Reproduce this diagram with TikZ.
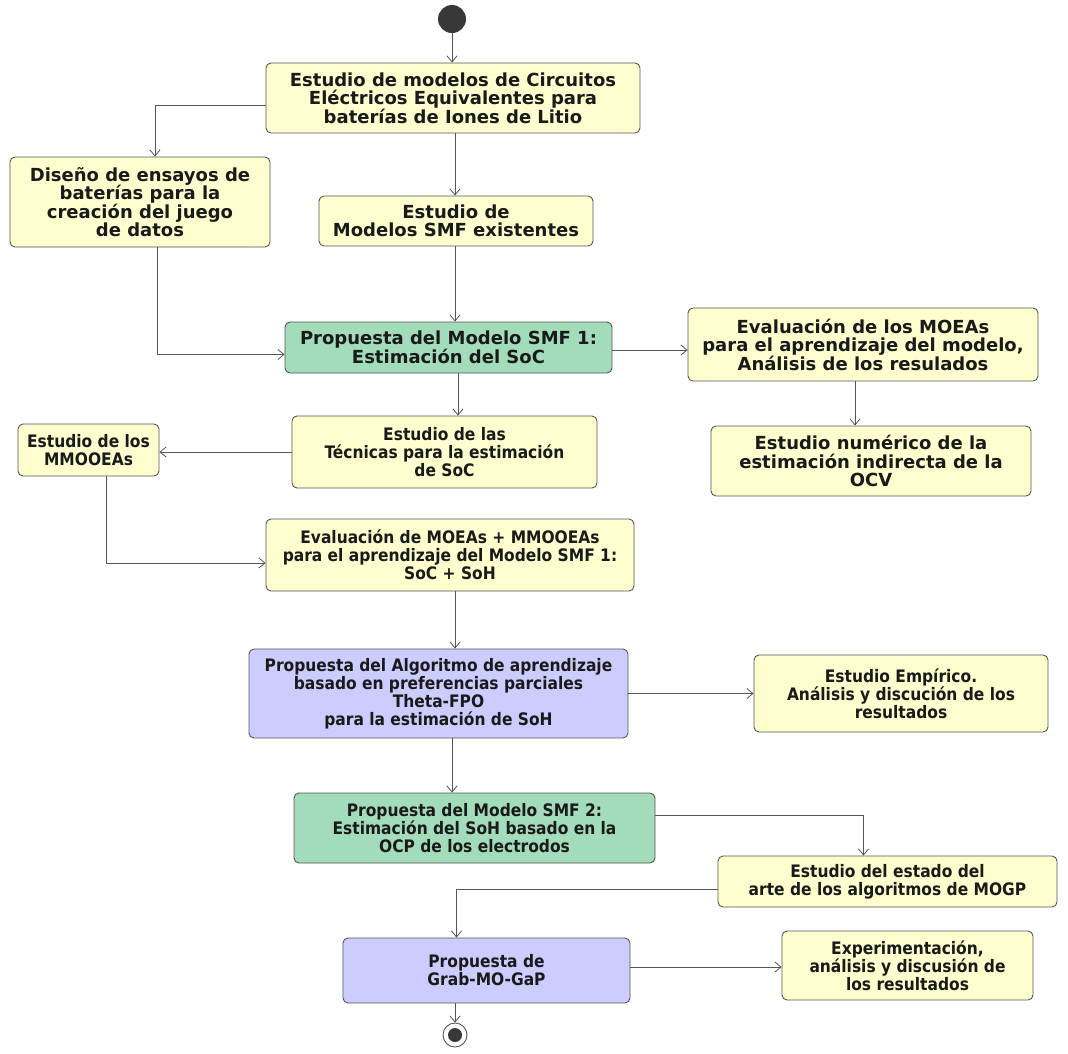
\documentclass[tikz,border=0pt]{standalone}
\usepackage{fontspec}
\setmainfont{DejaVu Sans}
\newfontfamily\condfont{DejaVu Sans Condensed}
\usetikzlibrary{arrows.meta}
\definecolor{byellow}{HTML}{FEFECE}
\definecolor{bgreen}{HTML}{A2DCBA}
\definecolor{bpurple}{HTML}{CCCCFF}
\definecolor{bline}{HTML}{555555}
\definecolor{btext}{HTML}{1A1A1A}
\tikzset{
  box/.style={draw=bline, line width=0.9pt, rounded corners=5pt, align=center,
    text=btext, inner sep=1pt, font=\bfseries\fontsize{18}{18.5}\selectfont},
  ybox/.style={box, fill=byellow},
  gbox/.style={box, fill=bgreen},
  pbox/.style={box, fill=bpurple},
  cond/.style={font=\condfont\bfseries\fontsize{17.2}{18}\selectfont},
  flow/.style={draw=bline, line width=0.8pt, -{Straight Barb[length=6pt,width=10pt]}}
}
\begin{document}
\begin{tikzpicture}[x=1pt,y=-1pt]
\useasboundingbox[fill=white] (0,0) rectangle (1068,1053);
\node[circle, fill=black!78, minimum size=28pt, inner sep=0pt] (start) at (452,19) {};
\node[ybox, minimum width=374pt, minimum height=70pt] (b1) at (453,98)
  {Estudio de modelos de Circuitos\\Eléctricos Equivalentes para\\baterías de Iones de Litio};
\node[ybox, minimum width=260pt, minimum height=90pt] (b2) at (140,202)
  {Diseño de ensayos de\\baterías para la\\creación del juego\\de datos};
\node[ybox, minimum width=274pt, minimum height=50pt] (b3) at (456,221)
  {Estudio de\\Modelos SMF existentes};
\node[gbox, minimum width=327pt, minimum height=51pt] (b4) at (448.5,347.5)
  {Propuesta del Modelo SMF 1:\\Estimación del SoC};
\node[ybox, minimum width=350pt, minimum height=73pt] (b5) at (863,344.5)
  {Evaluación de los MOEAs\\para el aprendizaje del modelo,\\Análisis de los resulados};
\node[ybox, cond, minimum width=305pt, minimum height=72pt] (b6) at (444.5,452)
  {Estudio de las\\Técnicas para la estimación\\de SoC};
\node[ybox, cond, minimum width=141pt, minimum height=52pt] (b7) at (88.5,450)
  {Estudio de los\\MMOOEAs};
\node[ybox, minimum width=320pt, minimum height=70pt] (b8) at (871,461)
  {Estudio numérico de la\\estimación indirecta de la\\OCV};
\node[ybox, cond, minimum width=368pt, minimum height=72pt] (b9) at (450,555)
  {Evaluación de MOEAs + MMOOEAs\\para el aprendizaje del Modelo SMF 1:\\SoC + SoH};
\node[pbox, cond, minimum width=379pt, minimum height=89pt] (b10) at (438.5,693.5)
  {Propuesta del Algoritmo de aprendizaje\\basado en preferencias parciales\\Theta-FPO\\para la estimación de SoH};
\node[ybox, cond, minimum width=294pt, minimum height=77pt] (b11) at (901,693.5)
  {Estudio Empírico.\\Análisis y discución de los\\resultados};
\node[gbox, cond, minimum width=361pt, minimum height=70pt] (b12) at (474.5,828)
  {Propuesta del Modelo SMF 2:\\Estimación del SoH basado en la\\OCP de los electrodos};
\node[ybox, cond, minimum width=339pt, minimum height=51pt] (b13) at (887.5,881.5)
  {Estudio del estado del\\arte de los algoritmos de MOGP};
\node[pbox, cond, minimum width=287pt, minimum height=65pt] (b14) at (486.5,970.5)
  {Propuesta de\\Grab-MO-GaP};
\node[ybox, cond, minimum width=251pt, minimum height=69pt] (b15) at (907.5,965.5)
  {Experimentación,\\análisis y discusión de\\los resultados};
\node[circle, draw=bline, line width=0.9pt, fill=white, minimum size=24pt, inner sep=0pt] (end) at (455,1035) {};
\node[circle, fill=black!78, minimum size=14pt, inner sep=0pt] (endin) at (end.center) {};

\draw[flow] (start) -- (start |- b1.north);
\draw[flow] ([yshift=-7pt]b1.west) -| ([xshift=15pt]b2.north);
\draw[flow] (b1.south -| 455,0) -- (b3.north -| 455,0);
\draw[flow] ([xshift=17pt]b2.south) |- ([yshift=-7pt]b4.west);
\draw[flow] (b3.south -| 455,0) -- (b4.north -| 455,0);
\draw[flow] ([yshift=-2.5pt]b4.east) -- ([yshift=-2.5pt]b4.east -| b5.west);
\draw[flow] (b4.south -| 458,0) -- (b6.north -| 458,0);
\draw[flow] (b5.south -| 855,0) -- (b8.north -| 855,0);
\draw[flow] (b6.west) -- (b6.west -| b7.east);
\draw[flow] ([xshift=18pt]b7.south) |- ([yshift=-8pt]b9.west);
\draw[flow] (b9.south -| 455,0) -- (b10.north -| 455,0);
\draw[flow] (b10.east) -- (b10.east -| b11.west);
\draw[flow] (b10.south -| 452,0) -- (b12.north -| 452,0);
\draw[flow] ([yshift=13pt]b12.east) -| ([xshift=-24pt]b13.north);
\draw[flow] ([yshift=-8pt]b13.west) -| ([xshift=-30pt]b14.north);
\draw[flow] ([yshift=3.5pt]b14.east) -- ([yshift=3.5pt]b14.east -| b15.west);
\draw[flow] (b14.south -| end.north) -- (end.north);
\end{tikzpicture}
\end{document}
